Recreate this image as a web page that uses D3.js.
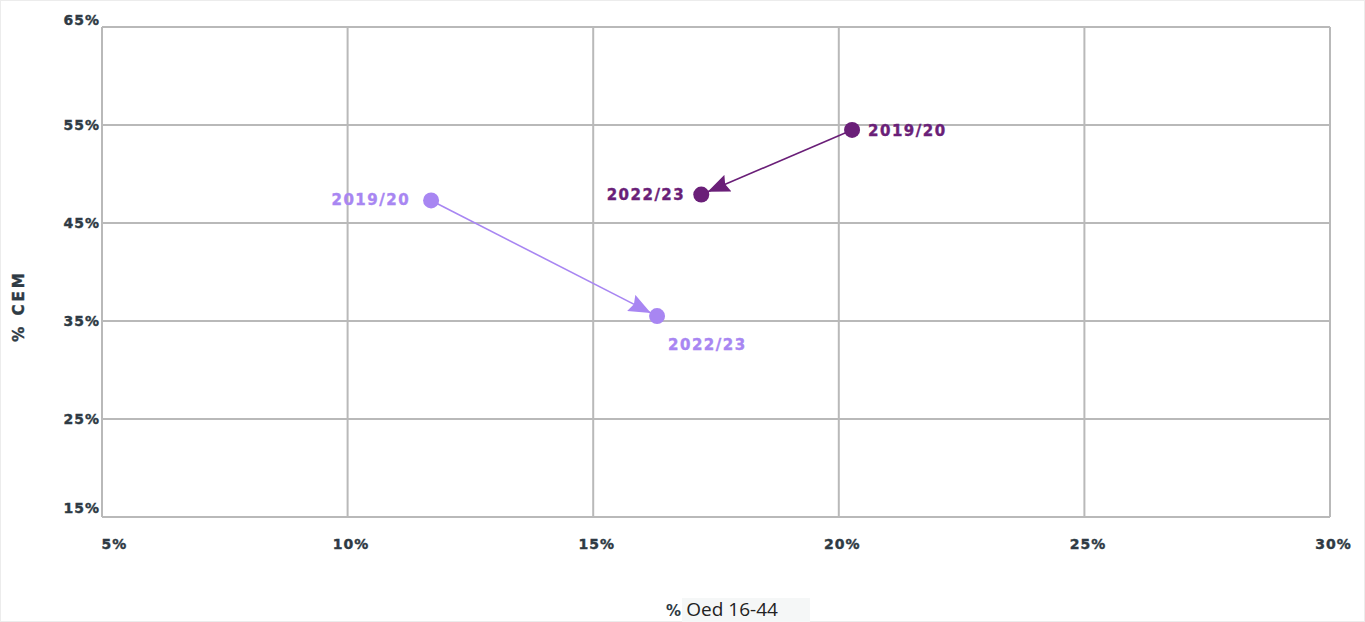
<!DOCTYPE html>
<html><head><meta charset="utf-8">
<script src="https://cdn.jsdelivr.net/npm/d3@7"></script>
<style>
html,body{margin:0;padding:0;background:#fff;}
svg{display:block;}
</style></head>
<body>
<script>
const xTicks = [5, 10, 15, 20, 25, 30];
const yTicks = [15, 25, 35, 45, 55, 65];
const xTickLabels = ["5%", "10%", "15%", "20%", "25%", "30%"];
const yTickLabels = ["15%", "25%", "35%", "45%", "55%", "65%"];
const periods = ["2019/20", "2022/23"];
const seriesNames = ["dark", "light"];
const darkX = [20.27, 17.2];
const darkY = [54.5, 47.9];
const lightX = [11.7, 16.3];
const lightY = [47.3, 35.5];
const xTitle = "% Oed 16-44";
const yTitle = "% CEM";

const W = 1365, H = 622;
const m = {left: 102, right: 35, top: 27, bottom: 105};
const svg = d3.select("body").append("svg").attr("width", W).attr("height", H);
svg.append("rect").attr("x",0.5).attr("y",0.5).attr("width",W-1).attr("height",H-1)
  .attr("fill","#fff").attr("stroke","#ececec");

const x = d3.scaleLinear().domain([5,30]).range([m.left, W - m.right]);
const y = d3.scaleLinear().domain([15,65]).range([H - m.bottom, m.top]);

const gridColor = "#b9b9b9";
svg.append("g").selectAll("line").data(xTicks).join("line")
  .attr("x1", d=>x(d)).attr("x2", d=>x(d)).attr("y1", y(15)).attr("y2", y(65))
  .attr("stroke", gridColor).attr("stroke-width", 2);
svg.append("g").selectAll("line").data(yTicks).join("line")
  .attr("y1", d=>y(d)).attr("y2", d=>y(d)).attr("x1", x(5)).attr("x2", x(30))
  .attr("stroke", gridColor).attr("stroke-width", 2);

const tickFont = "'DejaVu Sans', sans-serif";
const axisColor = "#2e3a44";
function boldify(sel, color) {
  sel.attr("font-family", tickFont).attr("font-weight","bold")
    .attr("fill", color).attr("stroke", color).attr("stroke-width", 0.4);
}
// x axis labels
const xa = svg.append("g").attr("transform", `translate(0,${y(15)})`)
  .call(d3.axisBottom(x).tickValues(xTicks).tickFormat((d,i)=>xTickLabels[i]).tickSize(0).tickPadding(22));
xa.select(".domain").remove();
xa.selectAll("text").call(boldify, axisColor).attr("font-size", 14).attr("letter-spacing", 1)
  .attr("dx", (d,i)=> i === 0 ? 12 : 3);
// y axis labels
const ya = svg.append("g").attr("transform", `translate(${x(5)},0)`)
  .call(d3.axisLeft(y).tickValues(yTicks).tickFormat((d,i)=>yTickLabels[i]).tickSize(0).tickPadding(2));
ya.select(".domain").remove();
ya.selectAll("text").call(boldify, axisColor).attr("font-size", 14).attr("letter-spacing", 1)
  .attr("dy", (d,i)=> i === 0 ? "-0.3em" : (i === yTicks.length-1 ? "-0.15em" : "0.32em"));

// axis titles
svg.append("rect").attr("x", 682).attr("y", 598).attr("width", 128).attr("height", 24).attr("fill", "#f5f7f7");
const xt = svg.append("text").attr("x", 722).attr("y", 616).attr("text-anchor","middle")
  .attr("font-family","'Open Sans', sans-serif").attr("font-size", 19).attr("fill","#222");
xt.append("tspan").attr("font-weight","bold").attr("font-family", tickFont).attr("font-size", 15)
  .attr("fill", axisColor).text(xTitle.split(" ")[0] + " ");
xt.append("tspan").text(xTitle.split(" ").slice(1).join(" "));
svg.append("text").attr("transform", `translate(24,${306}) rotate(-90)`).attr("text-anchor","middle")
  .call(boldify, axisColor).attr("font-size", 15)
  .attr("letter-spacing", 3).text(yTitle);

const series = [
  {name: seriesNames[0], xs: darkX, ys: darkY, color: "#6a1f78",
   labelPos: [{dx: 16, dy: 6, anchor: "start"}, {dx: -16, dy: 5, anchor: "end"}]},
  {name: seriesNames[1], xs: lightX, ys: lightY, color: "#a886f2",
   labelPos: [{dx: -21, dy: 5, anchor: "end"}, {dx: 11, dy: 34, anchor: "start"}]}
];

const defs = svg.append("defs");
series.forEach(s => {
  defs.append("marker").attr("id", "arr-" + s.name)
    .attr("viewBox", "0 0 22 18").attr("refX", 22).attr("refY", 9)
    .attr("markerUnits", "userSpaceOnUse").attr("markerWidth", 22).attr("markerHeight", 18)
    .attr("orient", "auto")
    .append("path").attr("d", "M0,0 L22,9 L0,18 L3,9 Z").attr("fill", s.color);
});

const r = 8;
series.forEach(s => {
  const g = svg.append("g");
  const x0 = x(s.xs[0]), y0 = y(s.ys[0]), x1 = x(s.xs[1]), y1 = y(s.ys[1]);
  const len = Math.hypot(x1-x0, y1-y0);
  const ux = (x1-x0)/len, uy = (y1-y0)/len;
  g.append("line").attr("x1", x0).attr("y1", y0)
    .attr("x2", x1 - ux*(r-1)).attr("y2", y1 - uy*(r-1))
    .attr("stroke", s.color).attr("stroke-width", 1.6)
    .attr("marker-end", `url(#arr-${s.name})`);
  g.selectAll("circle").data(periods).join("circle")
    .attr("cx", (d,i)=>x(s.xs[i])).attr("cy", (d,i)=>y(s.ys[i])).attr("r", r)
    .attr("fill", s.color);
  g.selectAll("text").data(periods).join("text")
    .attr("x", (d,i)=>x(s.xs[i]) + s.labelPos[i].dx)
    .attr("y", (d,i)=>y(s.ys[i]) + s.labelPos[i].dy)
    .attr("text-anchor", (d,i)=>s.labelPos[i].anchor)
    .call(boldify, s.color).attr("font-size", 15)
    .attr("letter-spacing", 1.5).text(d=>d);
});
</script>
</body></html>
